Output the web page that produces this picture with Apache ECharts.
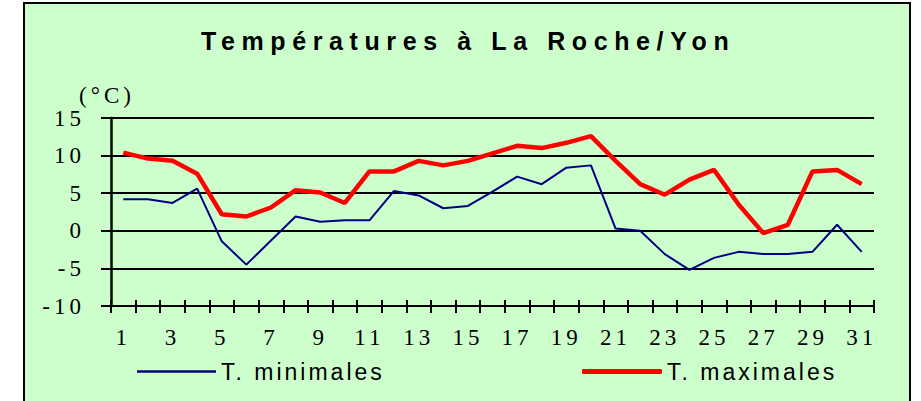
<!DOCTYPE html>
<html lang="fr">
<head>
<meta charset="UTF-8">
<title>Températures à La Roche/Yon</title>
<script src="https://cdn.jsdelivr.net/npm/echarts@6/dist/echarts.min.js"></script>
<style>
    body { margin: 0; background: #fff; }
    #chart text { letter-spacing: 3px; }
    #chart text[style*="Serif"] { letter-spacing: 4px; }
    #chart text[style*="bold"] { letter-spacing: 6.6px; }
</style>
</head>
<body>
<div id="chart" style="width:921px;height:401px;"></div>
<script>
    // jours du mois
    var jours = ['1','2','3','4','5','6','7','8','9','10','11','12','13','14','15','16',
                 '17','18','19','20','21','22','23','24','25','26','27','28','29','30','31'];
    // températures (°C)
    var tMin = [4.2, 4.2, 3.7, 5.6, -1.4, -4.5, -1.3, 1.9, 1.2, 1.4, 1.4, 5.3, 4.7, 3.0, 3.3, 5.2,
                7.2, 6.2, 8.4, 8.7, 0.3, 0.0, -3.1, -5.2, -3.6, -2.8, -3.1, -3.1, -2.8, 0.8, -2.8];
    var tMax = [10.4, 9.6, 9.3, 7.6, 2.2, 1.9, 3.1, 5.4, 5.1, 3.7, 7.9, 7.9, 9.3, 8.7, 9.3, 10.3,
                11.3, 11.0, 11.7, 12.6, 9.3, 6.2, 4.8, 6.8, 8.1, 3.5, -0.3, 0.8, 7.9, 8.1, 6.2];
    var yMin = -10, yMax = 15, yPas = 5;

    var serif = 'Liberation Serif';
    var sans = 'Liberation Sans';

    var myChart = echarts.init(document.getElementById('chart'), null, {renderer: 'svg'});

    var option = {
        animation: false,
        graphic: [{
            type: 'rect',
            z: -10,
            shape: {x: 24, y: 3, width: 886, height: 420},
            style: {fill: '#ccffcc', stroke: '#000', lineWidth: 2}
        }],
        title: {
            text: 'Températures à La Roche/Yon',
            left: 196,
            top: 23,
            textStyle: {fontFamily: sans, fontWeight: 'bold', fontSize: 25, color: '#000'}
        },
        legend: [{
            data: ['T. minimales'],
            left: 137,
            top: 360,
            padding: 0,
            icon: 'rect',
            itemWidth: 79,
            itemHeight: 2.5,
            textStyle: {fontFamily: sans, fontSize: 23, color: '#000'}
        }, {
            data: ['T. maximales'],
            left: 582,
            top: 360,
            padding: 0,
            icon: 'roundRect',
            itemWidth: 80,
            itemHeight: 5,
            textStyle: {fontFamily: sans, fontSize: 23, color: '#000'}
        }],
        grid: {left: 111, right: 47, top: 118, bottom: 95, containLabel: false},
        xAxis: [{
            type: 'category',
            position: 'bottom',
            data: jours,
            boundaryGap: true,
            axisLine: {show: true, onZero: false, lineStyle: {color: '#000', width: 2}},
            axisTick: {show: true, interval: 0, length: 7, lineStyle: {color: '#000', width: 2}},
            axisLabel: {interval: 1, margin: 20, fontFamily: serif, fontSize: 23, color: '#000'},
            splitLine: {show: false}
        }, {
            type: 'category',
            position: 'bottom',
            data: jours,
            boundaryGap: true,
            axisLine: {show: true, onZero: false, lineStyle: {color: '#000', width: 2}},
            axisTick: {show: true, interval: 0, inside: true, length: 6, lineStyle: {color: '#000', width: 2}},
            axisLabel: {show: false},
            splitLine: {show: false}
        }],
        yAxis: {
            type: 'value',
            min: yMin,
            max: yMax,
            interval: yPas,
            name: '(°C)',
            nameLocation: 'end',
            nameGap: 3,
            nameTextStyle: {fontFamily: serif, fontSize: 23, color: '#000', align: 'center', padding: [0, 8, 0, 0]},
            axisLine: {show: true, lineStyle: {color: '#000', width: 2.5}},
            axisTick: {show: true, length: 10, lineStyle: {color: '#000', width: 2}},
            axisLabel: {margin: 26, fontFamily: serif, fontSize: 23, color: '#000'},
            splitLine: {lineStyle: {color: '#000', width: 2}}
        },
        series: [{
            name: 'T. minimales',
            type: 'line',
            data: tMin,
            symbol: 'none',
            lineStyle: {color: '#000080', width: 2},
            itemStyle: {color: '#000080'}
        }, {
            name: 'T. maximales',
            type: 'line',
            data: tMax,
            symbol: 'none',
            lineStyle: {color: '#ff0000', width: 4.5},
            itemStyle: {color: '#ff0000'}
        }]
    };

    myChart.setOption(option);
</script>
</body>
</html>
